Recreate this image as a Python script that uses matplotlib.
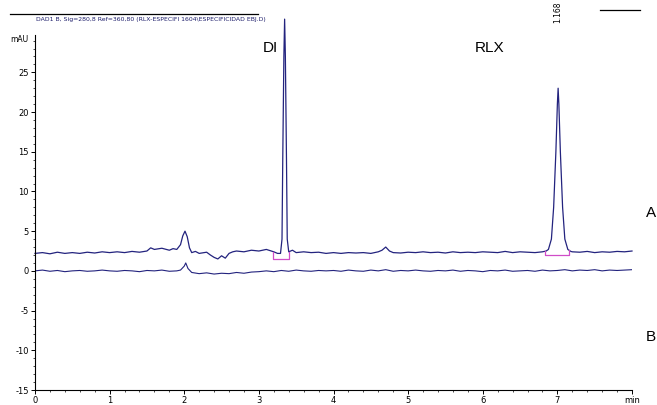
import numpy as np
import matplotlib
matplotlib.use("Agg")
import matplotlib.pyplot as plt
from matplotlib.lines import Line2D

plt.rcParams['axes.unicode_minus'] = False

# ---- data (time in min, signal in mAU) ----
time_a = [0.0, 0.1, 0.2, 0.3, 0.4, 0.5, 0.6, 0.7, 0.8, 0.9, 1.0, 1.1, 1.2, 1.3, 1.4,
          1.5, 1.55, 1.6, 1.7, 1.8, 1.85, 1.9, 1.95, 1.98, 2.01, 2.04, 2.07, 2.1, 2.15,
          2.2, 2.3, 2.35, 2.4, 2.45, 2.5, 2.55, 2.6, 2.65, 2.7, 2.8, 2.9, 3.0, 3.1,
          3.2, 3.25, 3.29, 3.31, 3.32, 3.335, 3.345, 3.355, 3.37, 3.38, 3.40, 3.45,
          3.5, 3.6, 3.7, 3.8, 3.9, 4.0, 4.1, 4.2, 4.3, 4.4, 4.5, 4.6, 4.65, 4.7,
          4.75, 4.8, 4.9, 5.0, 5.1, 5.2, 5.3, 5.4, 5.5, 5.6, 5.7, 5.8, 5.9, 6.0,
          6.1, 6.2, 6.3, 6.4, 6.5, 6.6, 6.7, 6.8, 6.85, 6.88, 6.92, 6.95, 6.98,
          7.0, 7.01, 7.02, 7.04, 7.07, 7.10, 7.14, 7.18, 7.2, 7.3, 7.4, 7.5,
          7.6, 7.7, 7.8, 7.9, 8.0]
signal_a = [2.2, 2.3, 2.15, 2.35, 2.2, 2.3, 2.2, 2.35, 2.25, 2.4, 2.3, 2.4, 2.3, 2.45, 2.35,
            2.5, 2.9, 2.7, 2.85, 2.6, 2.8, 2.7, 3.3, 4.4, 5.0, 4.3, 2.9, 2.3, 2.45,
            2.2, 2.35, 2.0, 1.7, 1.5, 1.9, 1.6, 2.2, 2.4, 2.5, 2.4, 2.6, 2.5, 2.7,
            2.4, 2.2, 2.2, 4.0, 14.0, 27.0, 31.7, 27.0, 14.0, 4.0, 2.4, 2.6,
            2.3, 2.4, 2.3, 2.35, 2.2, 2.3, 2.2, 2.3, 2.25, 2.3, 2.2, 2.4, 2.6, 3.0,
            2.5, 2.3, 2.25, 2.35, 2.3, 2.4, 2.3, 2.35, 2.25, 2.4, 2.3, 2.35, 2.3, 2.4,
            2.35, 2.3, 2.45, 2.3, 2.4, 2.35, 2.3, 2.4, 2.5, 2.7, 4.0, 8.0, 15.0,
            21.0, 23.0, 21.0, 15.0, 8.0, 4.0, 2.7, 2.45, 2.4, 2.35, 2.45, 2.3,
            2.4, 2.35, 2.45, 2.4, 2.5]

time_b = [0.0, 0.1, 0.2, 0.3, 0.4, 0.5, 0.6, 0.7, 0.8, 0.9, 1.0, 1.1, 1.2, 1.3, 1.4,
          1.5, 1.6, 1.7, 1.8, 1.9, 1.95, 2.0, 2.02, 2.05, 2.1, 2.2, 2.3, 2.4, 2.5,
          2.6, 2.7, 2.8, 2.9, 3.0, 3.1, 3.2, 3.3, 3.4, 3.5, 3.6, 3.7, 3.8, 3.9,
          4.0, 4.1, 4.2, 4.3, 4.4, 4.5, 4.6, 4.7, 4.8, 4.9, 5.0, 5.1, 5.2, 5.3,
          5.4, 5.5, 5.6, 5.7, 5.8, 5.9, 6.0, 6.1, 6.2, 6.3, 6.4, 6.5, 6.6, 6.7,
          6.8, 6.9, 7.0, 7.1, 7.2, 7.3, 7.4, 7.5, 7.6, 7.7, 7.8, 7.9, 8.0]
signal_b = [0.0, 0.1, -0.05, 0.05, -0.1, 0.0, 0.05, -0.05, 0.0, 0.1, 0.0, -0.05, 0.05, 0.0, -0.1,
            0.05, 0.0, 0.1, -0.05, 0.0, 0.1, 0.6, 1.0, 0.3, -0.2, -0.35, -0.25, -0.4, -0.3,
            -0.35, -0.2, -0.3, -0.15, -0.1, 0.0, -0.1, 0.05, -0.05, 0.1, 0.0, -0.05, 0.05, 0.0,
            0.05, -0.05, 0.1, 0.0, -0.05, 0.1, 0.0, 0.15, -0.05, 0.05, 0.0, 0.1, 0.0, -0.05,
            0.05, 0.0, 0.1, -0.05, 0.05, 0.0, -0.1, 0.05, 0.0, 0.1, -0.05, 0.0, 0.05, -0.05,
            0.1, 0.0, 0.05, 0.15, 0.0, 0.1, 0.05, 0.15, 0.0, 0.1, 0.05, 0.1, 0.15]

# integration baselines (start, end, level)
int_di = [3.19, 3.40, 1.5]
int_rlx = [6.84, 7.16, 2.0]

x_ticks = [0, 1, 2, 3, 4, 5, 6, 7]
y_ticks = [-15, -10, -5, 0, 5, 10, 15, 20, 25]

trace_col = '#23237e'
pink = '#d04cc8'

fig = plt.figure(figsize=(6.57, 4.05), dpi=100)
W, H = 657.0, 405.0
ax = fig.add_axes([35 / W, 1 - 390 / H, (632 - 35) / W, (390 - 35) / H])

ax.plot(time_a, signal_a, color=trace_col, lw=0.9, clip_on=False)
ax.plot(time_b, signal_b, color=trace_col, lw=0.8)

for s, e, lvl in [int_di, int_rlx]:
    ya = np.interp(s, time_a, signal_a)
    yb = np.interp(e, time_a, signal_a)
    ax.plot([s, s, e, e], [ya, lvl, lvl, yb], color=pink, lw=0.9)

ax.set_xlim(0, 8.0)
ax.set_ylim(-15, 29.7)
for sp in ['top', 'right']:
    ax.spines[sp].set_visible(False)
ax.spines['left'].set_linewidth(0.8)
ax.spines['bottom'].set_linewidth(0.8)

ax.set_xticks(x_ticks + [8])
ax.set_xticklabels([str(t) for t in x_ticks] + ['min'])
ax.set_xticks(np.arange(0, 8.01, 0.2), minor=True)
ax.set_yticks(y_ticks)
ax.set_yticklabels([str(t) for t in y_ticks])
ax.set_yticks(np.arange(-15, 29.7, 1), minor=True)
ax.tick_params(axis='both', which='major', direction='out', length=3, width=0.7,
               labelsize=6, pad=1.5)
ax.tick_params(axis='both', which='minor', direction='out', length=1.5, width=0.5)

fig.text(10 / W, 1 - 40 / H, 'mAU', fontsize=5.5, ha='left', va='center')

# header
fig.add_artist(Line2D([10 / W, 258 / W], [1 - 14 / H, 1 - 14 / H], color='black', lw=0.9))
fig.add_artist(Line2D([600 / W, 640 / W], [1 - 10 / H, 1 - 10 / H], color='black', lw=0.9))
fig.text(36 / W, 1 - 19 / H,
         'DAD1 B, Sig=280,8 Ref=360,80 (RLX-ESPECIFI 1604\\ESPECIFICIDAD EBJ.D)',
         fontsize=4.4, color='#1c1c6a', ha='left', va='center',
         family=['Liberation Sans Narrow', 'DejaVu Sans'])

# peak annotation
ax.text(7.01, 31.2, '1.168', rotation=90, fontsize=5.5, ha='center', va='bottom',
        clip_on=False)

fig.text(270 / W, 1 - 48 / H, 'DI', fontsize=11, ha='center', va='center',
         family='Liberation Sans')
fig.text(490 / W, 1 - 48 / H, 'RLX', fontsize=11, ha='center', va='center',
         family='Liberation Sans')
fig.text(651 / W, 1 - 213 / H, 'A', fontsize=11, ha='center', va='center',
         family='Liberation Sans')
fig.text(651 / W, 1 - 337 / H, 'B', fontsize=11, ha='center', va='center',
         family='Liberation Sans')

fig.savefig('out.png', dpi=100)
